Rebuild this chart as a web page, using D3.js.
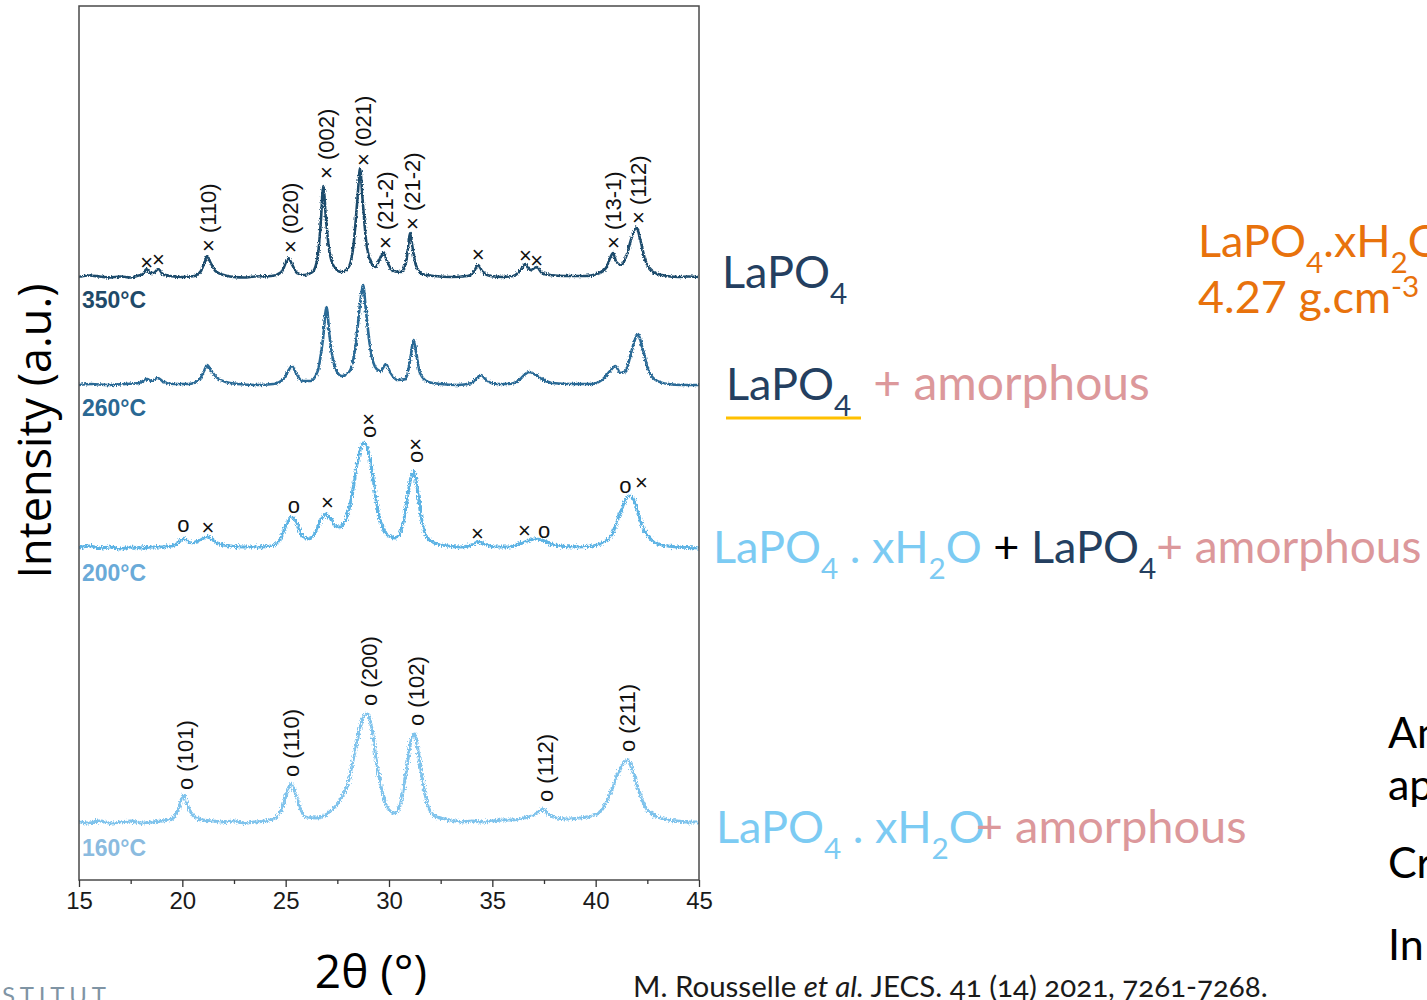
<!DOCTYPE html>
<html>
<head>
<meta charset="utf-8">
<script src="https://cdn.jsdelivr.net/npm/d3@7"></script>
<style>
  html, body { margin: 0; padding: 0; background: #fff; overflow: hidden; }
  svg { display: block; }
</style>
</head>
<body>
<svg id="fig" width="1427" height="1000"></svg>
<script>
// ---------------- data ----------------
// XRD patterns of LaPO4 annealed at four temperatures.
// Each pattern: [2θ (°), intensity above its own baseline (a.u.)]
const temperatures = ["350°C", "260°C", "200°C", "160°C"];
const baselineOffsets = [603, 495, 332, 58];
const tempLabelLevels = [572, 464, 299, 24];

const xrd350 = [
  [15,0],[15.5,1.5],[16,0.5],[16.5,-0.5],[17,0.5],[17.5,-0.5],[17.8,1],[18.1,3],[18.27,8],[18.45,4],[18.6,4],[18.84,8],
  [19.05,3],[19.4,1],[20,0],[20.6,1],[20.9,6],[21.1,16],[21.2,21],[21.35,15],[21.6,6],[22,2],[22.5,0],[23,-0.5],[23.5,0.5],
  [24.3,1],[24.8,5],[25.0,14],[25.13,19],[25.3,13],[25.55,4],[25.9,2],[26.3,5],[26.55,20],[26.7,55],[26.82,91],
  [26.95,58],[27.1,28],[27.35,10],[27.7,5],[28.05,10],[28.3,35],[28.48,80],[28.6,109],[28.72,78],[28.9,35],
  [29.1,16],[29.35,10],[29.55,18],[29.73,25],[29.9,16],[30.2,6],[30.6,5],[30.85,18],[30.95,35],[31.02,44],
  [31.12,32],[31.3,12],[31.6,3],[32.2,1],[33,0],[33.8,1],[34.1,5],[34.31,12],[34.5,6],[34.9,1],[35.5,0],[36,1],
  [36.3,5],[36.6,13],[36.85,7],[37.15,10],[37.4,4],[37.8,2],[38.5,1],[39.5,1],[40.2,4],[40.5,9],[40.7,19],
  [40.84,24],[41.0,15],[41.25,12],[41.5,22],[41.75,40],[41.98,50],[42.15,38],[42.4,17],[42.7,6],[43.2,2],
  [44,0],[44.5,0.5],[45,0]
];
const xrd260 = [
  [15,0],[15.6,1],[16.4,0],[17.2,1],[17.9,2],[18.3,6],[18.5,4],[18.8,7],[19.1,3],[19.6,1],[20.3,1],[20.8,5],
  [21.05,14],[21.2,20],[21.4,14],[21.7,7],[22.1,3],[22.7,1],[23.6,0],[24.4,1],[24.9,6],[25.15,15],[25.3,19],
  [25.5,12],[25.8,4],[26.2,4],[26.55,14],[26.8,45],[26.98,78],[27.12,50],[27.35,20],[27.7,9],[28.1,14],
  [28.4,42],[28.62,85],[28.75,100],[28.88,75],[29.1,36],[29.4,16],[29.6,14],[29.85,21],[30.05,13],[30.4,5],
  [30.8,6],[31.0,22],[31.12,38],[31.2,45],[31.32,32],[31.5,12],[31.9,3],[32.5,1],[33.3,0],[34.0,2],[34.25,7],
  [34.45,10],[34.7,5],[35.2,1],[35.8,1],[36.3,5],[36.6,11],[36.8,13],[37.1,10],[37.4,6],[37.9,2],[38.8,1],
  [39.8,1],[40.3,5],[40.7,14],[40.95,19],[41.2,12],[41.45,14],[41.75,35],[41.95,48],[42.05,51],[42.25,38],
  [42.55,15],[42.9,5],[43.5,1],[44.2,0],[45,0]
];
const xrd200 = [
  [15,0],[15.5,2],[16,0],[16.5,1],[17,-1],[17.5,1],[18,0],[18.5,1],[19,1],[19.5,2],[19.8,5],[20.07,10],[20.3,6],
  [20.5,5],[20.8,7],[21.05,10],[21.24,12],[21.45,8],[21.8,4],[22.3,2],[23,1],[23.7,1],[24.3,2],[24.7,8],[25.0,22],
  [25.2,30],[25.34,31],[25.55,24],[25.8,12],[26.1,9],[26.4,14],[26.7,28],[26.95,34],[27.15,30],[27.4,22],
  [27.6,21],[27.9,28],[28.2,52],[28.5,88],[28.75,105],[28.95,100],[29.15,80],[29.4,45],[29.7,20],[30.0,12],
  [30.3,10],[30.6,18],[30.85,45],[31.05,70],[31.19,77],[31.35,62],[31.55,32],[31.8,12],[32.2,5],[32.8,2],
  [33.5,1],[34.0,3],[34.31,6],[34.6,4],[35.2,1],[35.8,1],[36.3,4],[36.7,7],[37.05,9],[37.4,8],[37.8,4],
  [38.3,2],[39,1],[39.8,2],[40.4,6],[40.8,14],[41.1,30],[41.4,46],[41.6,52],[41.8,50],[42.0,38],[42.3,20],
  [42.7,8],[43.2,3],[44,1],[45,0]
];
const xrd160 = [
  [15,0],[15.5,-1],[16,1],[16.5,-1],[17,0],[17.5,1],[18,-1],[18.5,0],[19,1],[19.5,3],[19.8,12],[20.05,27],
  [20.3,14],[20.6,5],[21,2],[21.5,1],[22,0],[22.5,1],[23,-1],[23.5,0],[24,1],[24.5,4],[24.9,18],[25.1,32],
  [25.25,38],[25.45,30],[25.7,14],[26,5],[26.5,4],[27,8],[27.5,18],[28,38],[28.4,75],[28.7,102],[28.95,108],
  [29.15,96],[29.4,60],[29.7,28],[30,12],[30.3,9],[30.6,22],[30.9,60],[31.1,84],[31.25,88],[31.4,72],
  [31.65,38],[31.9,15],[32.3,5],[33,2],[33.5,0],[34,1],[34.5,0],[35,1],[35.5,2],[36,2],[36.5,4],[37,7],
  [37.3,11],[37.45,13],[37.7,8],[38.1,4],[38.6,3],[39.2,4],[39.8,6],[40.3,12],[40.7,28],[41.1,50],[41.4,60],
  [41.55,62],[41.8,50],[42.1,30],[42.5,12],[43,5],[43.5,2],[44,1],[44.5,0],[45,0]
];
const patterns = [xrd350, xrd260, xrd200, xrd160];

// Reflection labels: [text, 2θ, level (a.u.)]
const hkl350 = [
  ["× (110)", 21.24, 628], ["× (020)", 25.22, 627], ["× (002)", 26.95, 701], ["× (021)", 28.74, 714],
  ["× (21-2)", 29.82, 631], ["× (21-2)", 31.1, 650], ["× (13-1)", 40.84, 631], ["× (112)", 42.05, 656]
];
const marks350 = [["×", 18.27, 618], ["×", 18.84, 621], ["×", 34.31, 626], ["×", 36.6, 625], ["×", 37.15, 620]];
const hkl200 = [["o×", 28.98, 442], ["o×", 31.26, 417]];
const marks200 = [
  ["o", 20.05, 354], ["×", 21.24, 353], ["o", 25.4, 373], ["×", 27.02, 378], ["×", 34.28, 347],
  ["×", 36.55, 350], ["o", 37.5, 348], ["o", 41.44, 393], ["×", 42.22, 398]
];
const hkl160 = [
  ["o (101)", 20.15, 90], ["o (110)", 25.26, 103], ["o (200)", 29.03, 174],
  ["o (102)", 31.3, 154], ["o (112)", 37.55, 78], ["o (211)", 41.52, 128]
];

const majorTicks = [15, 20, 25, 30, 35, 40, 45];
const minorTicks = [17.5, 22.5, 27.5, 32.5, 37.5, 42.5];

// ---------------- styles ----------------
const traceColors = ["#1c4b6c", "#2b6a96", "#5db3e4", "#7fc3ec"];
const tempColors = ["#1f4a69", "#2a6893", "#6aaad8", "#8bbbdf"];
const navy = "#243f60", pink = "#dc989b", lightBlue = "#7ccbf3", orange = "#e8720c", gold = "#ffc000";
const annotFont = "Lato, 'Open Sans', sans-serif";
const plotFont = "'Liberation Sans', Arial, sans-serif";

const svg = d3.select("#fig");
const M = { left: 79, right: 699, top: 6, bottom: 880 };

const x = d3.scaleLinear().domain([15, 45]).range([M.left, M.right]);
const y = d3.scaleLinear().domain([0, 874]).range([M.bottom, M.top]);

// noise texture for the measured patterns
const defs = svg.append("defs");
defs.append("clipPath").attr("id", "plotClip")
  .append("rect").attr("x", M.left).attr("y", M.top)
  .attr("width", M.right - M.left).attr("height", M.bottom - M.top);
[["noiseA", 3.5], ["noiseB", 6]].forEach(([id, s]) => {
  const f = defs.append("filter").attr("id", id)
    .attr("x", "-2%").attr("y", "-30%").attr("width", "104%").attr("height", "160%");
  f.append("feTurbulence").attr("type", "fractalNoise").attr("baseFrequency", "1.2 0.45")
    .attr("numOctaves", 2).attr("seed", 3).attr("result", "t");
  f.append("feDisplacementMap").attr("in", "SourceGraphic").attr("in2", "t")
    .attr("scale", s).attr("xChannelSelector", "R").attr("yChannelSelector", "G");
});

// ---------------- patterns ----------------
const plot = svg.append("g").attr("clip-path", "url(#plotClip)");
patterns.forEach((data, i) => {
  const line = d3.line()
    .x(d => x(d[0]))
    .y(d => y(baselineOffsets[i] + d[1]))
    .curve(d3.curveMonotoneX);
  const g = plot.append("g").attr("filter", i < 2 ? "url(#noiseA)" : "url(#noiseB)");
  g.append("path").attr("d", line(data)).attr("fill", "none")
    .attr("stroke", traceColors[i]).attr("stroke-width", i < 2 ? 2.6 : 3)
    .attr("stroke-linejoin", "round");
});

// ---------------- reflection labels ----------------
const labels = svg.append("g").attr("font-family", plotFont).attr("fill", "#111").attr("font-size", 22);
[hkl350, hkl200, hkl160].forEach(set => {
  set.forEach(([t, tt, lvl]) => {
    labels.append("text")
      .attr("transform", `translate(${x(tt)},${y(lvl)}) rotate(-90)`)
      .attr("dy", "0.36em").attr("text-anchor", "start").text(t);
  });
});
[marks350, marks200].forEach(set => {
  set.forEach(([t, tt, lvl]) => {
    labels.append("text")
      .attr("x", x(tt)).attr("y", y(lvl))
      .attr("dy", t === "o" ? "0.27em" : "0.36em")
      .attr("text-anchor", "middle").text(t);
  });
});

// temperature tags
temperatures.forEach((t, i) => {
  svg.append("text").attr("x", M.left + 3).attr("y", y(tempLabelLevels[i]))
    .attr("font-family", plotFont).attr("font-weight", "bold").attr("font-size", 23)
    .attr("fill", tempColors[i]).text(t);
});

// ---------------- frame and axis ----------------
svg.append("rect").attr("x", M.left).attr("y", M.top)
  .attr("width", M.right - M.left).attr("height", M.bottom - M.top)
  .attr("fill", "none").attr("stroke", "#4a4a4a").attr("stroke-width", 1.5);

const axMajor = svg.append("g").attr("transform", `translate(0,${M.bottom})`)
  .call(d3.axisBottom(x).tickValues(majorTicks).tickSize(7).tickPadding(5).tickFormat(d3.format("d")));
const axMinor = svg.append("g").attr("transform", `translate(0,${M.bottom})`)
  .call(d3.axisBottom(x).tickValues(minorTicks).tickSize(4).tickFormat(""));
[axMajor, axMinor].forEach(a => {
  a.select(".domain").remove();
  a.selectAll("line").attr("stroke", "#333").attr("stroke-width", 1.3);
});
axMajor.selectAll("text").attr("font-family", plotFont).attr("font-size", 24).attr("fill", "#1a1a1a");

// axis titles
svg.append("text").attr("transform", "translate(51,431) rotate(-90)")
  .attr("text-anchor", "middle").attr("font-family", "'Open Sans', sans-serif")
  .attr("font-size", 45).attr("fill", "#000").text("Intensity (a.u.)");
svg.append("text").attr("x", 371).attr("y", 988)
  .attr("text-anchor", "middle").attr("font-family", "'Open Sans', sans-serif")
  .attr("font-size", 46).attr("fill", "#000").text("2θ (°)");

// ---------------- phase annotations ----------------
function rich(px, py, size, segs) {
  const t = svg.append("text").attr("x", px).attr("y", py)
    .attr("font-family", annotFont).attr("font-size", size);
  let cur = 0;
  segs.forEach(s => {
    const small = s.sub || s.sup;
    const target = s.sub ? size * 0.36 : s.sup ? -size * 0.36 : 0;
    const ts = t.append("tspan").text(s.t).attr("fill", s.c)
      .attr("font-size", small ? size * 0.66 : (s.size || size))
      .style("white-space", "pre");
    if (target !== cur) { ts.attr("dy", target - cur); cur = target; }
    if (s.dx) ts.attr("dx", s.dx);
  });
  return t;
}

rich(722, 288, 45, [{ t: "LaPO", c: navy }, { t: "4", c: navy, sub: 1 }]);

rich(726, 400, 45, [{ t: "LaPO", c: navy }, { t: "4", c: navy, sub: 1 },
  { t: "+ amorphous", c: pink, dx: 22, size: 48 }]);
svg.append("line").attr("x1", 726).attr("x2", 861).attr("y1", 418).attr("y2", 418)
  .attr("stroke", gold).attr("stroke-width", 3);

rich(713, 563, 45, [
  { t: "LaPO", c: lightBlue }, { t: "4", c: lightBlue, sub: 1 }, { t: " . xH", c: lightBlue },
  { t: "2", c: lightBlue, sub: 1 }, { t: "O", c: lightBlue }, { t: " + ", c: "#000" },
  { t: "LaPO", c: navy }, { t: "4", c: navy, sub: 1 }, { t: "+ amorphous", c: pink, size: 46 }
]);

rich(716, 843, 45, [
  { t: "LaPO", c: lightBlue }, { t: "4", c: lightBlue, sub: 1 }, { t: " . xH", c: lightBlue },
  { t: "2", c: lightBlue, sub: 1 }, { t: "O", c: lightBlue }, { t: "+ amorphous", c: pink, dx: -9, size: 47 }
]);

rich(1198, 257, 45, [
  { t: "LaPO", c: orange }, { t: "4", c: orange, sub: 1 }, { t: ".xH", c: orange },
  { t: "2", c: orange, sub: 1 }, { t: "O", c: orange }
]);
rich(1198, 313, 45, [{ t: "4.27 g.cm", c: orange }, { t: "-3", c: orange, sup: 1 }]);

// right-hand notes
[["An", 748], ["ap", 800], ["Cr", 878], ["In", 960]].forEach(([t, py]) => {
  svg.append("text").attr("x", 1388).attr("y", py)
    .attr("font-family", annotFont).attr("font-size", 43).attr("fill", "#000").text(t);
});

// reference
const cite = svg.append("text").attr("x", 633).attr("y", 997)
  .attr("font-family", annotFont).attr("font-size", 29.5).attr("fill", "#1a1a1a")
  .style("font-variant-numeric", "oldstyle-nums");
cite.append("tspan").text("M. Rousselle ");
cite.append("tspan").attr("font-style", "italic").text("et al.");
cite.append("tspan").text(" JECS. 41 (14) 2021, 7261-7268.");

// institute logo lettering
svg.append("text").attr("x", 2).attr("y", 1004)
  .attr("font-family", annotFont).attr("font-size", 24).attr("letter-spacing", 4.8)
  .attr("fill", "#7f94a4").text("STITUT");
</script>
</body>
</html>
